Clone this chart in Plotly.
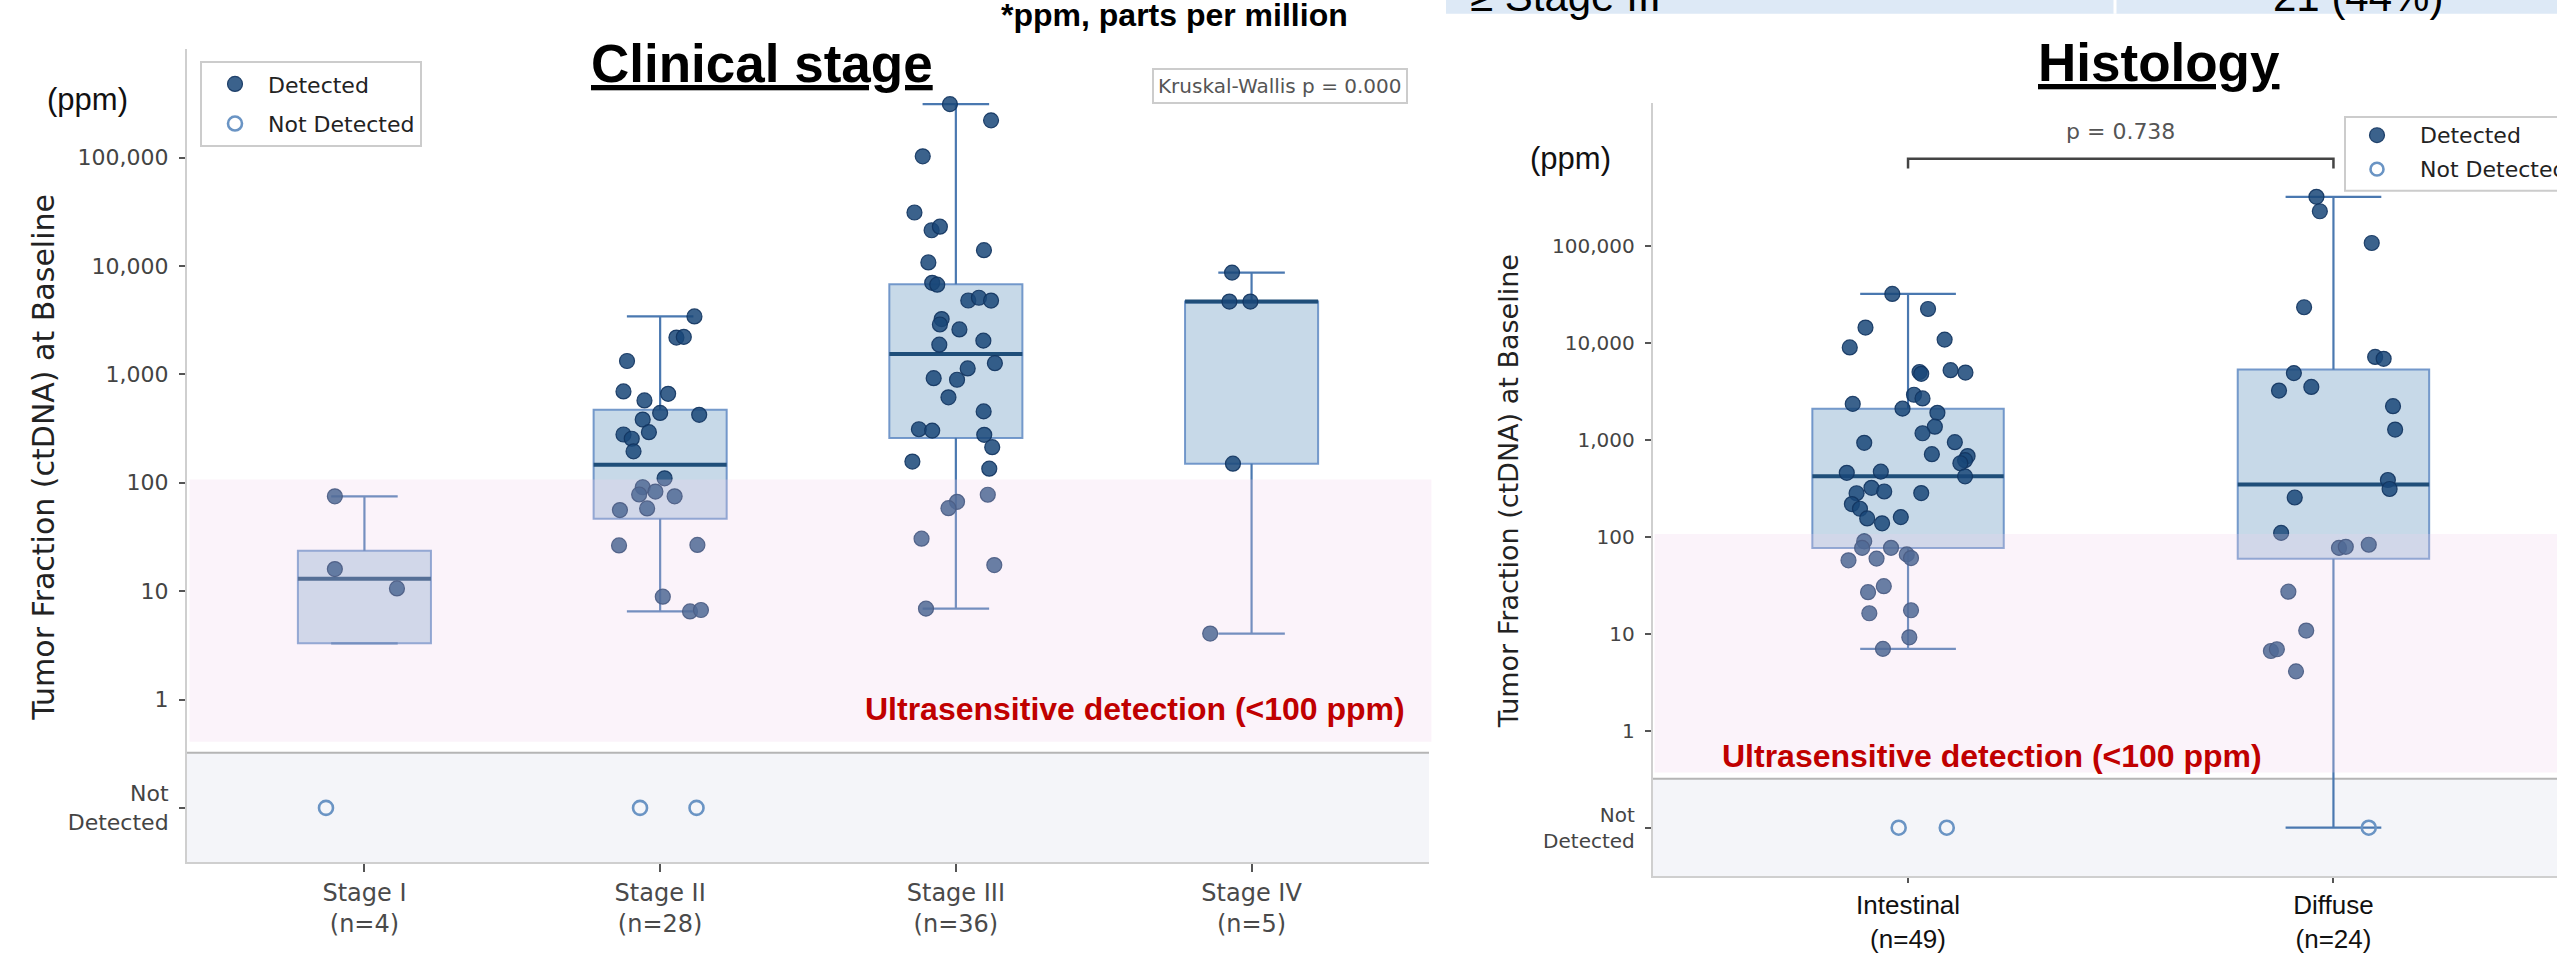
import numpy as np
import plotly.graph_objects as go

W, H = 2557, 954
# The photographed frame is slightly taller than the browser viewport; vertical
# page fractions are stretched by this factor so the picture lands on target.
VSTRETCH = 1.014

# ---------------- data (ppm) ----------------
stage_names = ["Stage I", "Stage II", "Stage III", "Stage IV"]
stage_n = [4, 28, 36, 5]

stage1_vals = [75, 16, 10.6]
stage1_jit = [-0.10, -0.10, 0.11]
stage1_nd_jit = [-0.13]

stage2_vals = [3430, 2190, 2220, 1330, 697, 662, 575, 441, 424, 383, 293, 279, 255, 195,
               110, 91, 83, 78, 75, 58, 56, 26.4, 26.7, 8.9, 6.5, 6.7]
stage2_jit = [0.116, 0.055, 0.08, -0.112, -0.124, 0.027, -0.053, 0.0, 0.132, -0.059, -0.038,
              -0.124, -0.096, -0.09, 0.015, -0.059, -0.016, -0.071, 0.049, -0.044, -0.136,
              -0.139, 0.126, 0.009, 0.101, 0.138]
stage2_nd_jit = [-0.068, 0.123]

stage3_vals = [312000, 221000, 103000, 31200, 21400, 23100, 14000, 10800, 7000, 6730, 4810,
               5100, 4800, 3240, 2890, 2600, 2050, 1880, 1270, 1135, 923, 893, 615, 456, 312,
               303, 277, 213, 157, 135, 77.6, 66.8, 58.3, 30.5, 17.4, 6.9]
stage3_jit = [-0.02, 0.119, -0.112, -0.14, -0.082, -0.054, 0.095, -0.093, -0.08, -0.063, 0.042,
              0.078, 0.119, -0.048, -0.054, 0.012, 0.093, -0.056, 0.132, 0.04, -0.075, 0.004,
              -0.025, 0.094, -0.125, -0.08, 0.096, 0.123, -0.147, 0.113, 0.108, 0.004, -0.025,
              -0.116, 0.13, -0.101]
stage3_nd_jit = []

stage4_vals = [8700, 4700, 4700, 150, 4.06]
stage4_jit = [-0.066, -0.075, -0.004, -0.063, -0.14]
stage4_nd_jit = []

hist_names = ["Intestinal", "Diffuse"]
hist_n = [49, 24]

intestinal_vals = [32060, 22440, 14420, 9000, 10840, 5020, 4810, 5240, 4955, 2355, 2924, 2679,
                   2104, 1905, 1371, 1172, 948, 935, 713, 682, 618, 575, 458, 471, 421, 321,
                   294, 282, 283, 218, 195, 155, 160, 138, 90, 77, 77.1, 66, 60.5, 59.7, 57.3,
                   31, 26.9, 16.3, 17.5, 9.2, 7.0]
intestinal_jit = [-0.037, 0.047, -0.1, -0.137, 0.086, 0.027, 0.031, 0.1, 0.135, -0.13, 0.014,
                  0.034, -0.013, 0.069, 0.063, 0.034, 0.11, -0.103, 0.056, 0.14, 0.134, 0.123,
                  -0.144, -0.064, 0.134, -0.086, -0.056, -0.121, 0.031, -0.132, -0.113, -0.096,
                  -0.017, -0.061, -0.103, -0.108, -0.04, -0.003, 0.007, -0.074, -0.14, -0.057,
                  -0.094, -0.091, 0.007, 0.003, -0.059]
intestinal_nd_jit = [-0.022, 0.091]

diffuse_vals = [322000, 228600, 107600, 23390, 7180, 6870, 4890, 3230, 3520, 2230, 1280, 386,
                312, 255, 110, 77, 79, 83, 27.2, 10.8, 6.65, 6.93, 4.1]
diffuse_jit = [-0.04, -0.032, 0.09, -0.069, 0.098, 0.118, -0.093, -0.128, -0.052, 0.14, 0.145,
               0.128, 0.132, -0.091, -0.123, 0.013, 0.029, 0.083, -0.106, -0.064, -0.147,
               -0.133, -0.088]
diffuse_nd_jit = [0.083]

ND_VALUE = 0.1           # "Not Detected" plotted at 0.1 ppm position
ULTRA_THRESHOLD = 100    # ppm
y_tickvals = [0.1, 1, 10, 100, 1000, 10000, 100000]
y_ticktext = ["Not<br>Detected", "1", "10", "100", "1,000", "10,000", "100,000"]

left_groups = [(stage1_vals, stage1_jit, stage1_nd_jit), (stage2_vals, stage2_jit, stage2_nd_jit),
               (stage3_vals, stage3_jit, stage3_nd_jit), (stage4_vals, stage4_jit, stage4_nd_jit)]
right_groups = [(intestinal_vals, intestinal_jit, intestinal_nd_jit),
                (diffuse_vals, diffuse_jit, diffuse_nd_jit)]

# ---------------- style ----------------
FONT = "DejaVu Sans"
ARIAL = "Liberation Sans, Arial"
DET_FILL = "rgba(25,70,120,0.85)"
DET_LINE = "rgba(18,52,95,0.9)"
ND_LINE = "#6a94c4"
BOX_FILL = "rgba(70,130,180,0.30)"
BOX_EDGE = "rgba(95,138,195,0.85)"
WHISK = "#4a78b0"
MED = "#1f4e79"
PINK = "rgba(239,208,236,0.26)"
GRAYBAND = "#f4f5f9"
BOXW = 0.45


def px(x):
    return x / W


def py(y):
    return 1 - VSTRETCH * y / H


def box_stats(vals, n_nd):
    lv = np.log10(np.array(list(vals) + [ND_VALUE] * n_nd, dtype=float))
    q1, med, q3 = np.percentile(lv, [25, 50, 75])
    iqr = q3 - q1
    lo = lv[lv >= q1 - 1.5 * iqr].min()
    hi = lv[lv <= q3 + 1.5 * iqr].max()
    lo = min(lo, q1)
    hi = max(hi, q3)
    return [10 ** v for v in (lo, q1, med, q3, hi)]


fig = go.Figure()

panels = [("x", "y", left_groups), ("x2", "y2", right_groups)]
legend_done = {"det": False, "nd": False}

# boxes, whiskers, medians
for xa, ya, groups in panels:
    for i, (vals, jit, ndj) in enumerate(groups):
        lo, q1, med, q3, hi = box_stats(vals, len(ndj))
        fig.add_trace(go.Box(x=[i], q1=[q1], median=[med], q3=[q3], lowerfence=[q1],
                             upperfence=[q3], width=BOXW, whiskerwidth=0, fillcolor=BOX_FILL,
                             line=dict(color=BOX_EDGE, width=2), boxpoints=False,
                             showlegend=False, hoverinfo="skip", xaxis=xa, yaxis=ya))
        hw = BOXW * 0.25
        wx = [i, i, None, i - hw, i + hw, None, i, i, None, i - hw, i + hw]
        wy = [q3, hi, None, hi, hi, None, q1, lo, None, lo, lo]
        fig.add_trace(go.Scatter(x=wx, y=wy, mode="lines", line=dict(color=WHISK, width=2.2),
                                 showlegend=False, hoverinfo="skip", xaxis=xa, yaxis=ya))
        fig.add_trace(go.Scatter(x=[i - BOXW / 2, i + BOXW / 2], y=[med, med], mode="lines",
                                 line=dict(color=MED, width=4), showlegend=False,
                                 hoverinfo="skip", xaxis=xa, yaxis=ya))

# points
for xa, ya, groups in panels:
    for i, (vals, jit, ndj) in enumerate(groups):
        fig.add_trace(go.Scatter(
            x=[i + j for j in jit], y=vals, mode="markers", name="Detected",
            legendgroup="det", showlegend=not legend_done["det"],
            marker=dict(size=15, color=DET_FILL, line=dict(color=DET_LINE, width=1.2)),
            xaxis=xa, yaxis=ya))
        legend_done["det"] = True
for xa, ya, groups in panels:
    for i, (vals, jit, ndj) in enumerate(groups):
        if not ndj:
            continue
        fig.add_trace(go.Scatter(
            x=[i + j for j in ndj], y=[ND_VALUE] * len(ndj), mode="markers", name="Not Detected",
            legendgroup="nd", showlegend=not legend_done["nd"],
            marker=dict(size=14, symbol="circle-open", color=ND_LINE, line=dict(width=2.6)),
            xaxis=xa, yaxis=ya))
        legend_done["nd"] = True

# ---------------- axes ----------------
axis_common = dict(showgrid=False, zeroline=False, showline=True, linecolor="#cfcfcf",
                   linewidth=2, ticks="outside", tickcolor="#555", tickwidth=1.5)

fig.update_layout(
    width=W, height=H, margin=dict(l=0, r=0, t=0, b=0),
    paper_bgcolor="white", plot_bgcolor="white",
    font=dict(family=FONT, color="#333"),
    xaxis=dict(domain=[px(187), px(1429)], range=[-0.6, 3.6], anchor="y",
               tickvals=list(range(4)),
               ticktext=[f"{s}<br>(n={n})" for s, n in zip(stage_names, stage_n)],
               ticklen=8, tickfont=dict(family=FONT, size=24, color="#4a4a4a"), **axis_common),
    yaxis=dict(domain=[py(874), py(50)], type="log", range=[-1.5, 6.0], anchor="x",
               tickvals=y_tickvals, ticktext=y_ticktext, ticklen=6, ticklabelstandoff=6,
               tickfont=dict(family=FONT, size=22, color="#444"), **axis_common),
    xaxis2=dict(domain=[px(1652.8), 1.0], range=[-0.6, (W - 1907.9) / 425.5], anchor="y2",
                tickvals=list(range(2)),
                ticktext=[f"{s}<br>(n={n})" for s, n in zip(hist_names, hist_n)],
                ticklen=5, tickfont=dict(family=ARIAL, size=26, color="#111"), **axis_common),
    yaxis2=dict(domain=[py(888.3), py(104.6)], type="log", range=[-1.5, 6.474], anchor="x2",
                tickvals=y_tickvals, ticktext=y_ticktext, ticklen=6, ticklabelstandoff=6,
                tickfont=dict(family=FONT, size=20, color="#444"), **axis_common),
    legend=dict(x=px(200), y=py(62), xanchor="left", yanchor="top", bgcolor="white",
                bordercolor="#cccccc", borderwidth=2, font=dict(family=FONT, size=22, color="#222"),
                traceorder="grouped", tracegroupgap=8, itemwidth=56),
    showlegend=True,
)

# ---------------- bands, lines ----------------
shapes = []
for xa, ya, sep, pink_lo in [("x", "y", -0.49, -0.39), ("x2", "y2", -0.495, -0.43)]:
    shapes.append(dict(type="rect", xref=f"{xa} domain", yref=ya, x0=0, x1=1,
                       y0=10 ** -1.5, y1=10 ** sep, fillcolor=GRAYBAND, line=dict(width=0),
                       layer="below"))
    shapes.append(dict(type="line", xref=f"{xa} domain", yref=ya, x0=0, x1=1,
                       y0=10 ** sep, y1=10 ** sep, line=dict(color="#b5b5b5", width=2),
                       layer="below"))
    shapes.append(dict(type="rect", xref=f"{xa} domain", yref=ya, x0=0.002, x1=1.002,
                       y0=10 ** pink_lo, y1=ULTRA_THRESHOLD * 1.07, fillcolor=PINK,
                       line=dict(width=0), layer="above"))

# significance bracket (histology)
by, bt = 10 ** 5.90, 10 ** 5.80
shapes.append(dict(type="path", xref="x2", yref="y2",
                   path=f"M 0,{bt} L 0,{by} L 1,{by} L 1,{bt}",
                   line=dict(color="#444", width=2.5)))

# table strip at top right
shapes.append(dict(type="rect", xref="paper", yref="paper", x0=px(1446), x1=1.01,
                   y0=py(14), y1=py(-4), fillcolor="#dde9f6", line=dict(width=0)))
shapes.append(dict(type="line", xref="paper", yref="paper", x0=px(2115), x1=px(2115),
                   y0=py(14), y1=py(-4), line=dict(color="white", width=3)))

# manual legend for the histology panel (clipped by page edge)
shapes.append(dict(type="rect", xref="paper", yref="paper", x0=px(2345), x1=px(2640),
                   y0=py(193.5), y1=py(118.6), fillcolor="white",
                   line=dict(color="#cccccc", width=2), layer="above"))
shapes.append(dict(type="circle", xref="paper", yref="paper", x0=px(2369.5), x1=px(2384.5),
                   y0=py(144.5), y1=py(129.5), fillcolor=DET_FILL,
                   line=dict(color=DET_LINE, width=1.2), layer="above"))
shapes.append(dict(type="circle", xref="paper", yref="paper", x0=px(2370.5), x1=px(2383.5),
                   y0=py(178), y1=py(165), fillcolor="white",
                   line=dict(color=ND_LINE, width=2.6), layer="above"))
fig.update_layout(shapes=shapes)

# ---------------- annotations ----------------
ann = []


def A(text, x, y, size, family=FONT, color="#222", xanchor="center", yanchor="middle", **kw):
    ann.append(dict(text=text, x=px(x), y=py(y), xref="paper", yref="paper", showarrow=False,
                    xanchor=xanchor, yanchor=yanchor,
                    font=dict(family=family, size=size, color=color), **kw))


A("<b><u>Clinical stage</u></b>", 762, 64, 53, family=ARIAL, color="black")
A("<b><u>Histology</u></b>", 2159, 63, 53, family=ARIAL, color="black")
A("<b>*ppm, parts per million</b>", 1174, 15, 32, family=ARIAL, color="black")
A("≥ Stage III", 1468, -4, 42, family=ARIAL, color="black", xanchor="left")
A("21 (44%)", 2358, -4, 42, family=ARIAL, color="black")
A("(ppm)", 87, 101, 31, family=ARIAL, color="#111")
A("(ppm)", 1570, 161, 31, family=ARIAL, color="#111")
A("Tumor Fraction (ctDNA) at Baseline", 44, 464, 30, textangle=-90)
A("Tumor Fraction (ctDNA) at Baseline", 1508, 498, 27, textangle=-90)
A("<b>Ultrasensitive detection (&lt;100 ppm)</b>", 1407, 719, 32, family=ARIAL,
  color="#c00000", xanchor="right")
A("<b>Ultrasensitive detection (&lt;100 ppm)</b>", 1720, 766, 32, family=ARIAL,
  color="#c00000", xanchor="left")
A("Kruskal-Wallis p = 0.000", 1279.5, 87, 20, color="#555", bgcolor="white",
  bordercolor="#cccccc", borderwidth=2, borderpad=4)
A("p = 0.738", 2120, 133, 22, color="#555")
A("Detected", 2418, 137, 22, xanchor="left")
A("Not Detected", 2418, 172, 22, xanchor="left")
fig.update_layout(annotations=ann)

# Layout positions are fractions of the page, so fit the figure exactly to the window.
fit_to_window = """
document.body.style.margin = '0';
document.body.style.overflow = 'hidden';
var gd = document.getElementById('{plot_id}');
var w = window.innerWidth || 2557, h = window.innerHeight || 954;
if (w < 500) { w = 2557; }
if (h < 300) { h = 954; }
gd.style.width = w + 'px';
gd.style.height = h + 'px';
Plotly.relayout(gd, {width: w, height: h});
"""

fig.write_html("out.html", config={"displayModeBar": False}, post_script=fit_to_window)
